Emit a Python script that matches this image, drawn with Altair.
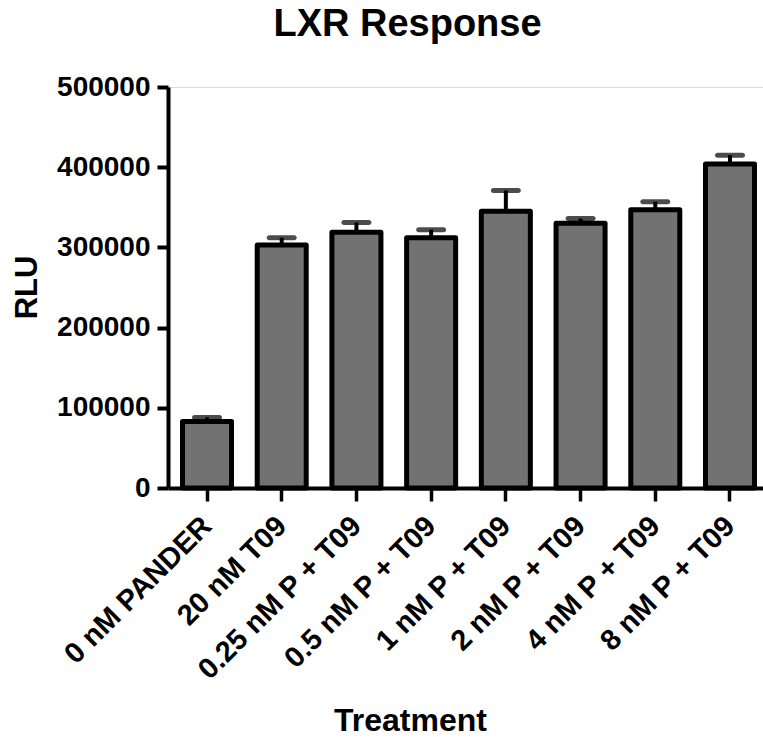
import altair as alt
import pandas as pd

# Luciferase reporter readout per treatment (mean and SEM, RLU)
treatments = [
    "0 nM PANDER",
    "20 nM T09",
    "0.25 nM P + T09",
    "0.5 nM P + T09",
    "1 nM P + T09",
    "2 nM P + T09",
    "4 nM P + T09",
    "8 nM P + T09",
]
rlu_mean = [83000, 303000, 319000, 312000, 345000, 330000, 347000, 404000]
rlu_sem = [5000, 9000, 12000, 10000, 26000, 6000, 10000, 11000]
y_ticks = [0, 100000, 200000, 300000, 400000, 500000]

df = pd.DataFrame({"Treatment": treatments, "RLU": rlu_mean, "SEM": rlu_sem})
df["upper"] = df["RLU"] + df["SEM"]

FONT = "Liberation Sans"

x_enc = alt.X(
    "Treatment:N",
    sort=None,
    scale=alt.Scale(range=[0, 601], paddingInner=0.344, paddingOuter=0.194),
    axis=alt.Axis(
        title="Treatment",
        titleFont=FONT,
        titleFontSize=32,
        titleFontWeight="bold",
        titleColor="black",
        titleX=242,
        titleY=242,
        titleAlign="center",
        titleBaseline="alphabetic",
        labelFont=FONT,
        labelFontSize=29,
        labelFontWeight="bold",
        labelColor="black",
        labelAngle=-45,
        labelAlign="right",
        labelBaseline="middle",
        labelPadding=20,
        labelLimit=0,
        labelOverlap=False,
        labelBound=False,
        labelFlush=False,
        domainColor="black",
        domainWidth=4,
        tickColor="black",
        tickWidth=3.5,
        tickSize=13,
        grid=False,
    ),
)

y_scale = alt.Scale(domain=[0, 500000], nice=False, zero=True)

bars = alt.Chart(df).mark_bar(
    fill="#727272", stroke="black", strokeWidth=5, strokeJoin="round"
).encode(
    x=x_enc,
    y=alt.Y(
        "RLU:Q",
        scale=y_scale,
        axis=alt.Axis(
            title="RLU",
            titleFont=FONT,
            titleFontSize=31,
            titleFontWeight="bold",
            titleColor="black",
            titleX=-141,
            titleY=200,
            titleAlign="center",
            titleBaseline="middle",
            titleAngle=-90,
            values=y_ticks,
            format="d",
            labelFont=FONT,
            labelFontSize=28,
            labelFontWeight="bold",
            labelColor="black",
            labelPadding=7,
            labelBound=False,
            labelFlush=False,
            domainColor="black",
            domainWidth=4,
            tickColor="black",
            tickWidth=4,
            tickSize=11,
            grid=False,
        ),
    ),
)

stems = alt.Chart(df).mark_rule(color="black", strokeWidth=4).encode(
    x=alt.X("Treatment:N", sort=None),
    y=alt.Y("RLU:Q", scale=y_scale),
    y2="upper:Q",
)

caps = alt.Chart(df).mark_tick(
    color="black", size=30, thickness=5, cornerRadius=2.5, orient="horizontal"
).encode(
    x=alt.X("Treatment:N", sort=None),
    y=alt.Y("upper:Q", scale=y_scale),
)

chart = (
    alt.layer(stems, bars, caps)
    .properties(
        width=595,
        height=401,
        autosize=alt.AutoSizeParams(type="none"),
        padding={"left": 168, "top": 87, "right": 0, "bottom": 249},
        title=alt.TitleParams(
            "LXR Response",
            font=FONT,
            fontSize=38,
            fontWeight="bold",
            color="black",
            anchor="middle",
            baseline="alphabetic",
            offset=3,
            dx=-58,
            dy=4,
        ),
    )
    .configure_view(stroke=None)
    .configure(background="white")
)

chart.save("out.html", embed_options={"renderer": "svg", "actions": False})
